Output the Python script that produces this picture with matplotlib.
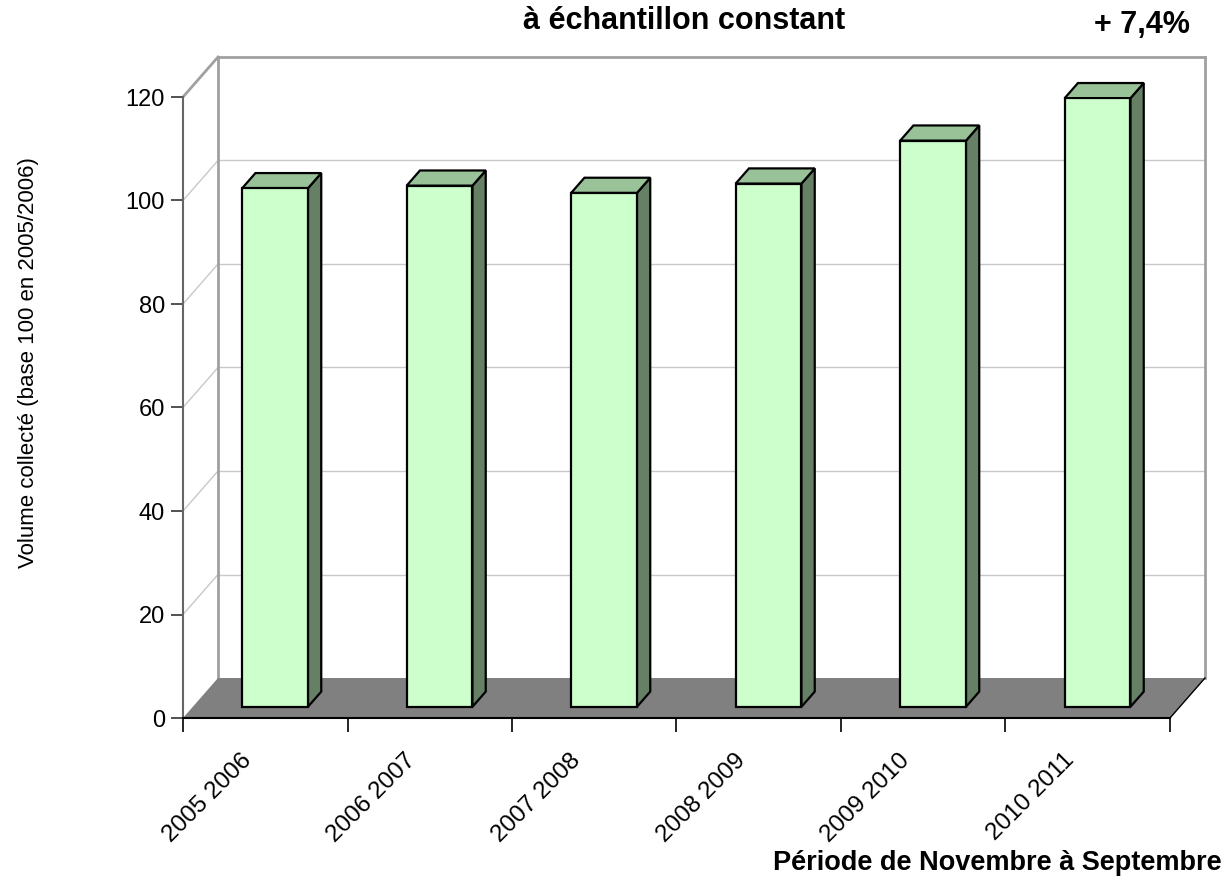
import numpy as np
import matplotlib.pyplot as plt
from matplotlib.patches import Polygon
from matplotlib.transforms import ScaledTranslation

periodes = ['2005 2006', '2006 2007', '2007 2008', '2008 2009', '2009 2010', '2010 2011']
volume = [100.2, 100.7, 99.3, 101.1, 109.4, 117.6]
yticks = [0, 20, 40, 60, 80, 100, 120]

plt.rcParams['font.family'] = ['Liberation Sans', 'DejaVu Sans']

fig = plt.figure(figsize=(12.29, 8.8), dpi=100)
# axes = front face of the 3d box
ax = fig.add_axes([183/1229, 162/880, 987/1229, 621/880])
ax.set_xlim(-0.5, 5.5)
ax.set_ylim(0, 120)

# depth of the box, in data units
dx = 35/164.5
dy = 40/5.175
x0, x1 = -0.5, 5.5

# back wall and left wall gridlines
for v in yticks[1:-1]:
    ax.plot([x0 + dx, x1 + dx], [v + dy, v + dy], color='#C8C8C8', lw=1, zorder=1, clip_on=False)
    ax.plot([x0, x0 + dx], [v, v + dy], color='#C8C8C8', lw=1, zorder=1, clip_on=False)
top = yticks[-1]
frame = '#A0A0A0'
ax.plot([x0 + dx, x0 + dx], [dy, top + dy], color=frame, lw=2, zorder=1, clip_on=False)
ax.plot([x1 + dx, x1 + dx], [dy, top + dy], color=frame, lw=2, zorder=1, clip_on=False)
ax.plot([x0 + dx, x1 + dx], [top + dy, top + dy], color=frame, lw=2, zorder=1, clip_on=False)
ax.plot([x0, x0 + dx], [top, top + dy], color=frame, lw=2, zorder=1, clip_on=False)

# floor
floor = Polygon([(x0, 0), (x1, 0), (x1 + dx, dy), (x0 + dx, dy)], closed=True,
                facecolor='#808080', edgecolor='none', zorder=2, clip_on=False)
ax.add_patch(floor)
ax.plot([x1, x1 + dx], [0, dy], color='black', lw=1, zorder=3, clip_on=False)

# bars
f0 = 0.28   # where the bar front sits in the depth
fd = 0.38   # bar depth
w = 0.40
x = np.arange(len(periodes))
bx = x + f0*dx
by = f0*dy
ax.bar(bx, volume, width=w, bottom=by, color='#CCFFCC', edgecolor='black', linewidth=1.6, zorder=5)
for xi, v in zip(bx, volume):
    l, r = xi - w/2, xi + w/2
    side = Polygon([(r, by), (r + fd*dx, by + fd*dy), (r + fd*dx, by + v + fd*dy), (r, by + v)],
                   closed=True, facecolor='#668066', edgecolor='black', lw=1.6, zorder=4, clip_on=False)
    topf = Polygon([(l, by + v), (r, by + v), (r + fd*dx, by + v + fd*dy), (l + fd*dx, by + v + fd*dy)],
                   closed=True, facecolor='#99C299', edgecolor='black', lw=1.6, zorder=4, clip_on=False)
    ax.add_patch(side)
    ax.add_patch(topf)

# axes
for s in ['top', 'right']:
    ax.spines[s].set_visible(False)
ax.spines['left'].set_color('#666666')
ax.spines['left'].set_linewidth(1.5)
ax.spines['bottom'].set_color('black')
ax.spines['bottom'].set_linewidth(1.5)
ax.spines['left'].set_zorder(6)
ax.spines['bottom'].set_zorder(6)

ax.set_yticks(yticks)
ax.set_yticklabels([str(t) for t in yticks], fontsize=17)
ax.tick_params(axis='y', length=9, width=1.2, color='#333333', pad=4)

ax.set_xticks(np.arange(x0, x1 + 1))
ax.set_xticklabels([])
ax.tick_params(axis='x', which='major', length=10, width=1.2, color='black')
ax.set_xticks(x, minor=True)
ax.set_xticklabels(periodes, minor=True, fontsize=17.5, rotation=45, ha='right',
                   va='center', rotation_mode='anchor')
ax.tick_params(axis='x', which='minor', length=0, pad=28)
shift = ScaledTranslation(-17/100, 0, fig.dpi_scale_trans)
for lab in ax.get_xticklabels(minor=True):
    lab.set_transform(lab.get_transform() + shift)

fig.text(29/1229, 1 - 363/880, 'Volume collecté (base 100 en 2005/2006)', rotation=90,
         ha='center', va='center', fontsize=16)
fig.text(684/1229, 1 - 29/880, 'à échantillon constant', ha='center', va='baseline',
         fontsize=22, fontweight='bold')
fig.text(1142/1229, 1 - 33/880, '+ 7,4%', ha='center', va='baseline',
         fontsize=22, fontweight='bold')
fig.text(1222/1229, 1 - 870/880, 'Période de Novembre à Septembre', ha='right', va='baseline',
         fontsize=19.5, fontweight='bold')

fig.savefig('out.png', dpi=100)
